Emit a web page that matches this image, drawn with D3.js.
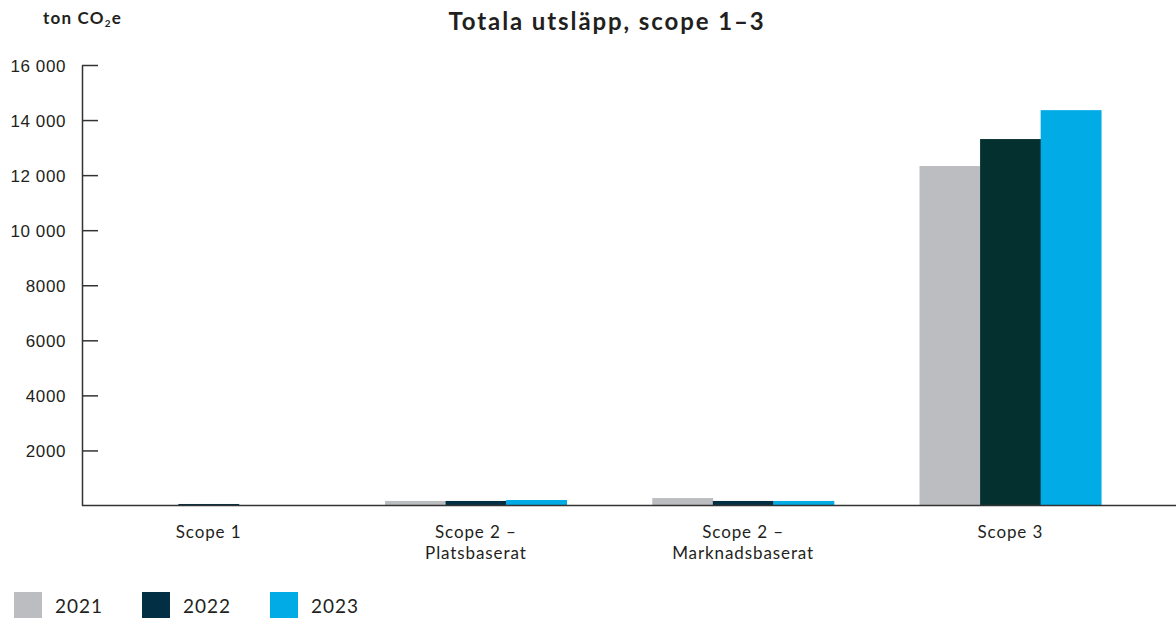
<!DOCTYPE html>
<html>
<head>
<meta charset="utf-8">
<script src="https://cdn.jsdelivr.net/npm/d3@7"></script>
<style>
  body { margin: 0; background: #fff; }
  svg { display: block; font-family: "Lato", "Noto Sans", sans-serif; }
  .tick text { font-size: 17px; fill: #231f20; letter-spacing: 0.6px; }
</style>
</head>
<body>
<svg id="chart"></svg>
<script>
// values, ton CO2e
var categories = [["Scope 1"], ["Scope 2 –", "Platsbaserat"], ["Scope 2 –", "Marknadsbaserat"], ["Scope 3"]];
var years = ["2021", "2022", "2023"];
var v2021 = [8, 165, 270, 12330];
var v2022 = [55, 165, 165, 13310];
var v2023 = [10, 200, 165, 14360];
var yTicks = [2000, 4000, 6000, 8000, 10000, 12000, 14000, 16000];
var yTickLabels = ["2000", "4000", "6000", "8000", "10 000", "12 000", "14 000", "16 000"];

var colors = {"2021": "#bcbdc0", "2022": "#032f45", "2023": "#00abe6"};

var W = 1176, H = 618;
var axisX = 82, yTop = 65, base = 505.5;

var svg = d3.select("#chart").attr("width", W).attr("height", H);

var catKeys = categories.map(function (c) { return c.join(" "); });
var series = [v2021, v2022, v2023];

var x0 = d3.scaleBand()
  .domain(catKeys)
  .range([75, 1144])
  .paddingInner(0.32)
  .paddingOuter(0.16);
var x1 = d3.scaleBand()
  .domain(years)
  .range([0, x0.bandwidth()]);
var y = d3.scaleLinear()
  .domain([0, 16000])
  .range([base, yTop]);

//bars
var rows = [];
catKeys.forEach(function (c, i) {
  years.forEach(function (yr, j) {
    rows.push({cat: c, year: yr, value: series[j][i]});
  });
});

svg.append("g").selectAll("rect")
  .data(rows)
  .enter().append("rect")
  .attr("x", function (d) { return x0(d.cat) + x1(d.year); })
  .attr("width", x1.bandwidth() + 0.3)
  .attr("y", function (d) { return y(d.value); })
  .attr("height", function (d) { return base - y(d.value); })
  .style("fill", function (d) {
    // the scope 3 bar for 2022 is a darker green tone in the original
    if (d.cat == "Scope 3" && d.year == "2022") return "#04302f";
    return colors[d.year];
  });

//y axis, ticks point into the plot
var yAxis = d3.axisLeft(y)
  .tickValues(yTicks)
  .tickFormat(function (d, i) { return yTickLabels[i]; })
  .tickSizeInner(-16)
  .tickSizeOuter(0)
  .tickPadding(16);
var gy = svg.append("g")
  .attr("transform", "translate(" + axisX + ",0)")
  .call(yAxis);
gy.selectAll("path, line").style("stroke", "#333").style("stroke-width", 1.5);
gy.selectAll("text").attr("dy", "0.36em");

//baseline
svg.append("line")
  .attr("x1", axisX).attr("x2", W)
  .attr("y1", y(0)).attr("y2", y(0))
  .style("stroke", "#333").style("stroke-width", 1.6);

//category labels
var cl = svg.append("g").selectAll("text")
  .data(categories)
  .enter().append("text")
  .attr("text-anchor", "middle")
  .attr("x", function (d, i) { return x0(catKeys[i]) + x0.bandwidth() / 2; })
  .attr("y", 538)
  .style("font-size", "17px")
  .style("letter-spacing", "0.9px")
  .style("fill", "#231f20");
cl.selectAll("tspan")
  .data(function (d) { return d; })
  .enter().append("tspan")
  .attr("x", function () { return d3.select(this.parentNode).attr("x"); })
  .attr("dy", function (d, i) { return i ? 21 : 0; })
  .text(function (d) { return d; });

//title and unit
svg.append("text")
  .attr("x", 607).attr("y", 30)
  .attr("text-anchor", "middle")
  .style("font-size", "24px").style("font-weight", "bold")
  .style("letter-spacing", "1.9px")
  .style("fill", "#231f20")
  .text("Totala utsläpp, scope 1–3");

var unit = svg.append("text")
  .attr("x", 43).attr("y", 24)
  .style("font-size", "17px").style("font-weight", "bold")
  .style("letter-spacing", "1.2px")
  .style("fill", "#231f20");
unit.append("tspan").text("ton CO");
unit.append("tspan").attr("dy", 3).style("font-size", "10px").text("2");
unit.append("tspan").attr("dy", -3).text("e");

//legend
var lg = svg.append("g").selectAll("g")
  .data(years)
  .enter().append("g")
  .attr("transform", function (d, i) { return "translate(" + (14 + i * 128) + ",592)"; });
lg.append("rect")
  .attr("width", 28).attr("height", 26)
  .style("fill", function (d) { return colors[d]; });
lg.append("text")
  .attr("x", 41).attr("y", 21)
  .style("font-size", "19px")
  .style("letter-spacing", "1px")
  .style("fill", "#231f20")
  .text(function (d) { return d; });
</script>
</body>
</html>
